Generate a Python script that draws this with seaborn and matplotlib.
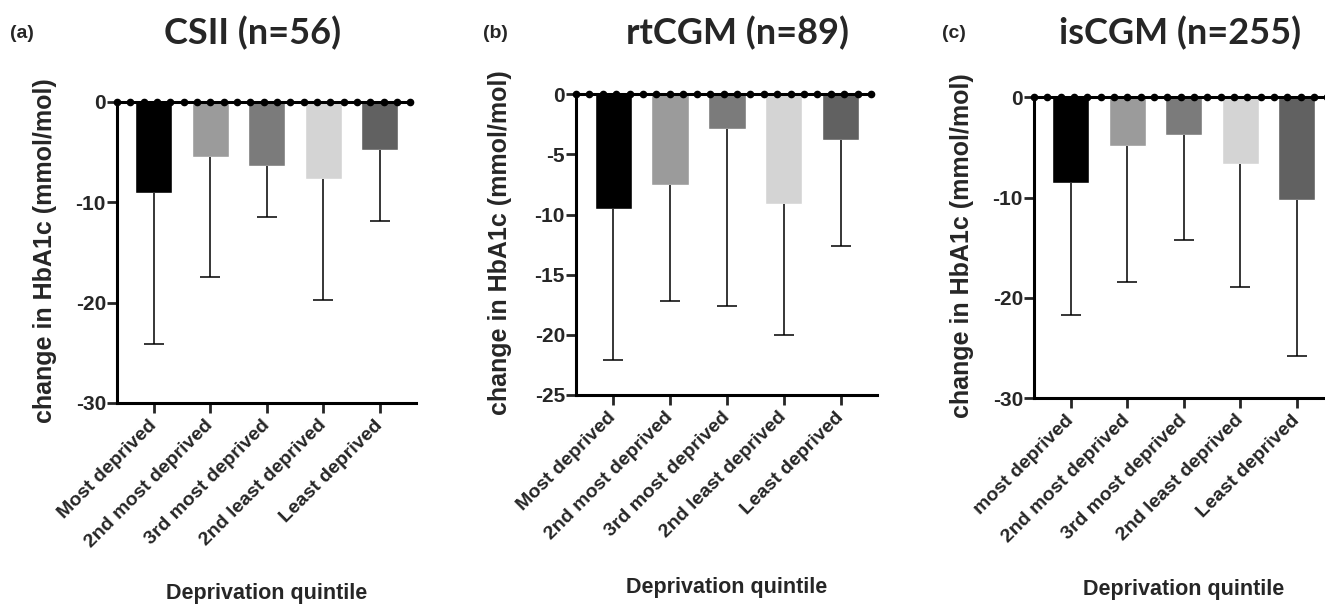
import numpy as np
import pandas as pd
import seaborn as sns
import matplotlib.pyplot as plt

# data (mean change and SD, only lower whisker drawn)
labels_a = ["Most deprived", "2nd most deprived", "3rd most deprived", "2nd least deprived", "Least deprived"]
labels_b = ["Most deprived", "2nd most deprived", "3rd most deprived", "2nd least deprived", "Least deprived"]
labels_c = ["most deprived", "2nd most deprived", "3rd most deprived", "2nd least deprived", "Least deprived"]

mean_a = [-9.1, -5.5, -6.35, -7.7, -4.8]
sd_a = [15.0, 11.9, 5.15, 12.0, 7.1]
mean_b = [-9.5, -7.55, -2.85, -9.15, -3.8]
sd_b = [12.6, 9.65, 14.75, 10.85, 8.85]
mean_c = [-8.55, -4.85, -3.75, -6.65, -10.25]
sd_c = [13.15, 13.55, 10.45, 12.25, 15.55]

titles = ["CSII (n=56)", "rtCGM (n=89)", "isCGM (n=255)"]
panel_tags = ["(a)", "(b)", "(c)"]
yticks_a = [0, -10, -20, -30]
yticks_b = [0, -5, -10, -15, -20, -25]
yticks_c = [0, -10, -20, -30]

bar_colors = ["#000000", "#9b9b9b", "#7b7b7b", "#d4d4d4", "#616161"]

sns.set_style("white")
plt.rcParams['font.family'] = ['Liberation Sans', 'DejaVu Sans']
plt.rcParams['font.weight'] = 'bold'

W, H = 1325, 606
fig = plt.figure(figsize=(W / 100, H / 100), dpi=100)

def px(x, y):
    return x / W, 1 - y / H

# axes boxes in pixels: left, top, right, bottom
boxes = [(117, 102, 416, 403), (576, 94.3, 877, 395), (1034, 97.3, 1333, 398.3)]
panels = [
    (labels_a, mean_a, sd_a, yticks_a),
    (labels_b, mean_b, sd_b, yticks_b),
    (labels_c, mean_c, sd_c, yticks_c),
]
title_x = [253, 737, 1180]
tag_x = [22, 495, 954]
ylab_x = [45, 500, 962]
xlab_pos = [(267, 594), (727, 587), (1184, 590)]

for i, (labels, means, sds, yt) in enumerate(panels):
    l, t, r, b = boxes[i]
    ax = fig.add_axes([l / W, 1 - b / H, (r - l) / W, (b - t) / H])
    df = pd.DataFrame({"quintile": labels, "change": means})
    sns.barplot(data=df, x="quintile", y="change", hue="quintile", palette=bar_colors,
                width=0.655, saturation=1, legend=False, ax=ax, errorbar=None)
    xs = np.arange(len(labels))
    eb = ax.errorbar(xs, means, yerr=[sds, np.zeros(len(sds))], fmt="none", ecolor="black",
                     elinewidth=1.1, capsize=7, capthick=1.1, zorder=4)
    # only the lower cap is drawn in the original
    eb[1][1].set_visible(False)
    ax.set_xlim(-0.655, 4.64)
    ax.set_ylim(yt[-1], 0)
    # zero line with dotted markers
    dots = np.arange(-0.655, 4.65, 0.236)
    ax.plot(dots, np.zeros(len(dots)), color="black", lw=2.2, marker="o", ms=4.5,
            clip_on=False, zorder=6)
    for side in ["top", "right"]:
        ax.spines[side].set_visible(False)
    for side in ["left", "bottom"]:
        ax.spines[side].set_linewidth(2.2)
        ax.spines[side].set_color("black")
    ax.set_yticks(yt)
    ax.set_yticklabels([str(v) for v in yt], fontsize=15, fontweight="bold")
    ax.set_xticks(xs)
    ax.set_xticklabels(labels, rotation=45, ha="right", va="center",
                       rotation_mode="anchor", fontsize=14, fontweight="bold")
    ax.tick_params(axis="y", direction="out", length=7, width=2, pad=1, left=True)
    ax.tick_params(axis="x", direction="out", length=7, width=2, pad=7, bottom=True)
    ax.set_xlabel("")
    ax.set_ylabel("")
    ax.grid(False)

    cy = (t + b) / 2 - 2
    fig.text(*px(ylab_x[i], cy), "change in HbA1c (mmol/mol)", rotation=90,
             ha="center", va="center", fontsize=18, fontweight="bold")
    fig.text(*px(*xlab_pos[i]), "Deprivation quintile", ha="center", va="center",
             fontsize=15.5, fontweight="bold")
    fig.text(*px(title_x[i], 33), titles[i], ha="center", va="center",
             fontsize=26, fontweight="bold", family=["Lato", "DejaVu Sans"])
    fig.text(*px(tag_x[i], 33), panel_tags[i], ha="center", va="center",
             fontsize=14, fontweight="bold")

fig.savefig("out.png", dpi=100)
